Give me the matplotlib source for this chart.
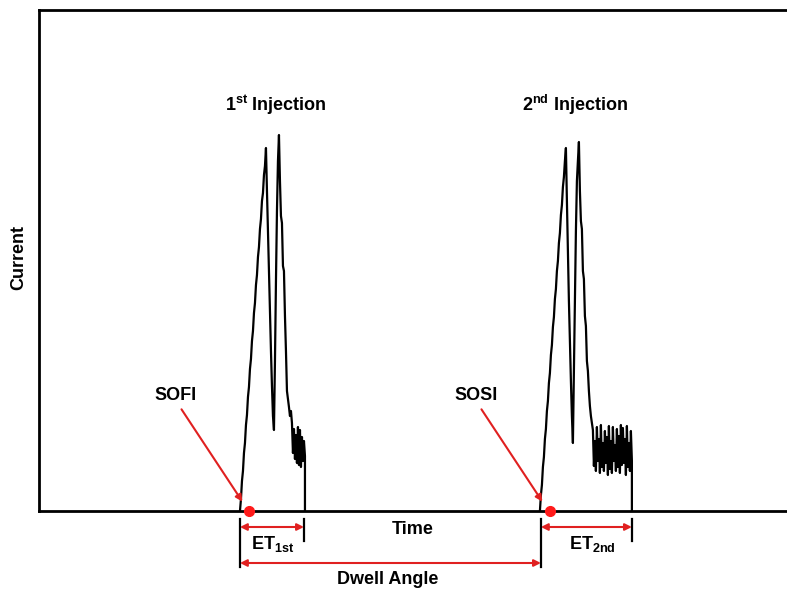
import matplotlib
matplotlib.use("Agg")
import matplotlib.pyplot as plt

plt.rcParams['font.family'] = ['Liberation Sans', 'DejaVu Sans']
plt.rcParams['font.weight'] = 'bold'
plt.rcParams['mathtext.fontset'] = 'custom'
plt.rcParams['mathtext.rm'] = 'Liberation Sans:bold'
plt.rcParams['mathtext.bf'] = 'Liberation Sans:bold'

# injector current trace, 1st injection
t1 = [201, 202, 203, 204, 205, 206, 207, 208, 209, 210, 211, 212, 213, 214,
      215, 216, 217, 218, 219, 220, 221, 222, 223, 224, 225, 226, 227,
      228, 229, 230, 231, 232, 233, 234, 235,
      236, 237, 238, 239, 240,
      241, 242, 243, 244, 245, 246, 247, 248, 249, 250, 251, 252,
      253, 254, 255, 256, 257, 258, 259, 260, 261, 262, 263, 264, 265, 266, 266]
c1 = [0, 12, 30, 40, 58, 68, 86, 96, 114, 124, 142, 152, 170, 180,
      198, 208, 226, 236, 254, 264, 282, 292, 310, 318, 336, 345, 363,
      320, 280, 240, 200, 160, 125, 95, 81,
      150, 230, 300, 350, 376,
      330, 295, 288, 245, 240, 195, 160, 120, 112, 104, 95, 100,
      88, 58, 82, 52, 76, 48, 84, 46, 81, 44, 74, 50, 70, 55, 0]

# injector current trace, 2nd injection
t2 = [501, 502, 503, 504, 505, 506, 507, 508, 509, 510, 511, 512, 513, 514,
      515, 516, 517, 518, 519, 520, 521, 522, 523, 524, 525, 526, 527,
      528, 529, 530, 531, 532, 533, 534,
      535, 536, 537, 538, 539, 540,
      541, 542, 543, 544, 545, 546, 547, 548, 549, 550, 551, 552, 553,
      554, 555, 556, 557, 558, 559, 560, 561, 562, 563, 564, 565, 566, 567,
      568, 569, 570, 571, 572, 573, 574, 575, 576, 577, 578, 579, 580, 581,
      582, 583, 584, 585, 586, 587, 588, 589, 590, 591, 592, 593, 593]
c2 = [0, 16, 26, 44, 54, 72, 82, 100, 110, 128, 138, 156, 166, 184,
      194, 212, 222, 240, 250, 268, 278, 296, 306, 324, 334, 350, 363,
      310, 260, 210, 170, 130, 95, 68,
      140, 210, 280, 330, 350, 369,
      320, 290, 282, 240, 232, 195, 185, 150, 140, 120, 105, 95, 88,
      81, 45, 70, 40, 84, 50, 72, 38, 86, 44, 68, 40, 80, 48, 74,
      36, 85, 42, 70, 38, 84, 50, 66, 40, 82, 44, 75, 38, 86, 46,
      83, 48, 72, 36, 85, 44, 68, 40, 80, 50, 0]

# start of injection markers
sofi_t, sosi_t = 210, 511
et1_start, et1_end = 201, 265
et2_start, et2_end = 502, 593

fig = plt.figure(figsize=(7.87, 5.89), dpi=100)
ax = fig.add_axes([39 / 787, 1 - 511 / 589, 1 - 39 / 787 + 0.01, (511 - 9.5) / 589])
ax.plot(t1, c1, color='black', lw=1.6)
ax.plot(t2, c2, color='black', lw=1.6)
ax.plot([sofi_t, sosi_t], [0, 0], 'o', color='#ff1a1a', ms=7, clip_on=False, zorder=5)

ax.set_xlim(0, 756)
ax.set_ylim(0, 501.5)
ax.set_xticks([])
ax.set_yticks([])
for s in ['left', 'top', 'bottom']:
    ax.spines[s].set_linewidth(2)
ax.spines['right'].set_visible(False)

red = '#e02020'
ax.text(137, 116, 'SOFI', ha='center', va='center', fontsize=13)
ax.text(437, 116, 'SOSI', ha='center', va='center', fontsize=13)
ax.annotate('', xy=(205, 7), xytext=(141, 104),
            arrowprops=dict(arrowstyle='-|>', color=red, lw=1.5, mutation_scale=10))
ax.annotate('', xy=(505, 7), xytext=(441, 104),
            arrowprops=dict(arrowstyle='-|>', color=red, lw=1.5, mutation_scale=10))

ax.text(237, 406, r'1$^{\mathbf{st}}$ Injection', ha='center', va='center', fontsize=13)
ax.text(536, 406, r'2$^{\mathbf{nd}}$ Injection', ha='center', va='center', fontsize=13)

# bracket ticks below the axis
for x0, y1 in [(et1_start, -56), (et1_end, -30), (et2_start, -56), (et2_end, -30)]:
    ax.plot([x0, x0], [-8, y1], color='black', lw=1.6, clip_on=False)

def dim_arrow(xa, xb, y):
    ax.annotate('', xy=(xb, y), xytext=(xa, y), annotation_clip=False,
                arrowprops=dict(arrowstyle='<|-|>', color=red, lw=1.5,
                                mutation_scale=10, shrinkA=0, shrinkB=0))

dim_arrow(et1_start, et1_end, -16)
dim_arrow(et2_start, et2_end, -16)
dim_arrow(et1_start, et2_start, -52)

ax.text(234, -33, r'ET$_{\mathbf{1st}}$', ha='center', va='center', fontsize=13, clip_on=False)
ax.text(553, -33, r'ET$_{\mathbf{2nd}}$', ha='center', va='center', fontsize=13, clip_on=False)
ax.text(374, -18, 'Time', ha='center', va='center', fontsize=13, clip_on=False)
ax.text(349, -69, 'Dwell Angle', ha='center', va='center', fontsize=13, clip_on=False)
fig.text(19 / 787, 1 - 258 / 589, 'Current', rotation=90, ha='center', va='center', fontsize=13)

fig.savefig('out.png', dpi=100)
